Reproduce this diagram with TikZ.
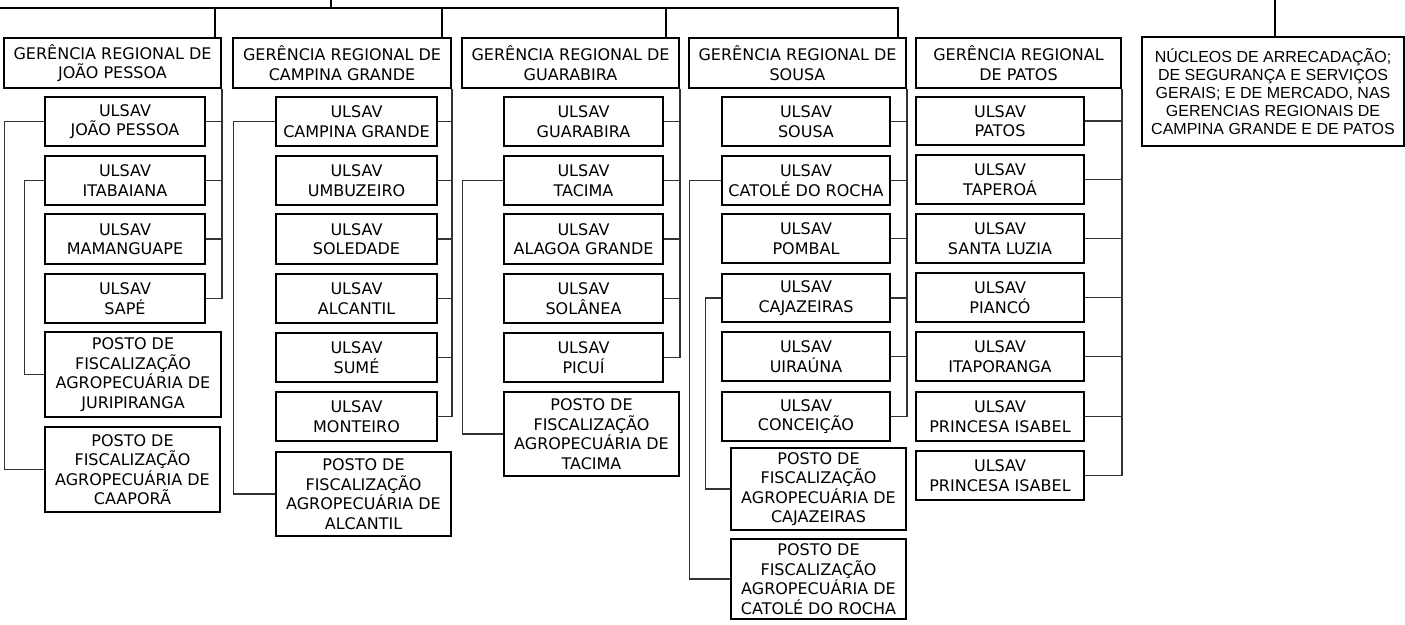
\documentclass[tikz,border=0pt]{standalone}
\usepackage{fontspec}
\setmainfont{DejaVu Sans}
\newfontfamily\arialf{Liberation Sans}
\tikzset{
  box/.style={draw, line width=1.8pt, align=center, inner sep=0pt, font=\fontsize{16}{19.5}\selectfont},
  nbox/.style={box, font=\arialf\fontsize{16}{18}\selectfont},
  conn/.style={draw=black!80, line width=1.2pt},
  mainline/.style={draw=black, line width=2.2pt},
}
\newcommand{\mkbox}[7][box]{\node[#1, minimum width={(#5-#3)*1pt}, minimum height={(#6-#4)*1pt}] (#2) at ({(#3+#5)/2},{(#4+#6)/2}) {#7};}
\begin{document}
\begin{tikzpicture}[x=1pt,y=-1pt]
\useasboundingbox (0,0) rectangle (1405,624);
% regional managements
\mkbox{grjp}{4}{38}{221}{88}{GERÊNCIA REGIONAL DE\\JOÃO PESSOA}
\mkbox{grcg}{233}{38}{451}{88}{GERÊNCIA REGIONAL DE\\CAMPINA GRANDE}
\mkbox{grgu}{462}{38}{679}{88}{GERÊNCIA REGIONAL DE\\GUARABIRA}
\mkbox{grso}{689}{38}{906}{88}{GERÊNCIA REGIONAL DE\\SOUSA}
\mkbox{grpa}{916}{38}{1121}{88}{GERÊNCIA REGIONAL\\DE PATOS}
\mkbox[nbox]{nuc}{1142}{37}{1404}{146}{NÚCLEOS DE ARRECADAÇÃO;\\DE SEGURANÇA E SERVIÇOS\\GERAIS; E DE MERCADO, NAS\\GERENCIAS REGIONAIS DE\\CAMPINA GRANDE E DE PATOS}
% Joao Pessoa
\mkbox{ujp1}{45}{97}{205}{146}{ULSAV\\JOÃO PESSOA}
\mkbox{ujp2}{45}{156}{205}{205}{ULSAV\\ITABAIANA}
\mkbox{ujp3}{45}{214}{205}{264}{ULSAV\\MAMANGUAPE}
\mkbox{ujp4}{45}{274}{205}{323}{ULSAV\\SAPÉ}
\mkbox{pjur}{45}{332}{221}{417}{POSTO DE\\FISCALIZAÇÃO\\AGROPECUÁRIA DE\\JURIPIRANGA}
\mkbox{pcaa}{45}{427}{220}{512}{POSTO DE\\FISCALIZAÇÃO\\AGROPECUÁRIA DE\\CAAPORÃ}
% Campina Grande
\mkbox{ucg1}{276}{97}{437}{146}{ULSAV\\CAMPINA GRANDE}
\mkbox{ucg2}{276}{156}{437}{205}{ULSAV\\UMBUZEIRO}
\mkbox{ucg3}{276}{214}{437}{264}{ULSAV\\SOLEDADE}
\mkbox{ucg4}{276}{274}{437}{323}{ULSAV\\ALCANTIL}
\mkbox{ucg5}{276}{333}{437}{382}{ULSAV\\SUMÉ}
\mkbox{ucg6}{276}{392}{437}{441}{ULSAV\\MONTEIRO}
\mkbox{palc}{276}{452}{451}{536}{POSTO DE\\FISCALIZAÇÃO\\AGROPECUÁRIA DE\\ALCANTIL}
% Guarabira
\mkbox{ugu1}{504}{97}{663}{146}{ULSAV\\GUARABIRA}
\mkbox{ugu2}{504}{156}{663}{205}{ULSAV\\TACIMA}
\mkbox{ugu3}{504}{214}{663}{264}{ULSAV\\ALAGOA GRANDE}
\mkbox{ugu4}{504}{274}{663}{323}{ULSAV\\SOLÂNEA}
\mkbox{ugu5}{504}{333}{663}{382}{ULSAV\\PICUÍ}
\mkbox{ptac}{504}{392}{679}{476}{POSTO DE\\FISCALIZAÇÃO\\AGROPECUÁRIA DE\\TACIMA}
% Sousa
\mkbox{uso1}{722}{97}{890}{146}{ULSAV\\SOUSA}
\mkbox{uso2}{722}{156}{890}{205}{ULSAV\\CATOLÉ DO ROCHA}
\mkbox{uso3}{722}{214}{890}{263}{ULSAV\\POMBAL}
\mkbox{uso4}{722}{274}{890}{322}{ULSAV\\CAJAZEIRAS}
\mkbox{uso5}{722}{332}{890}{381}{ULSAV\\UIRAÚNA}
\mkbox{uso6}{722}{392}{890}{441}{ULSAV\\CONCEIÇÃO}
\mkbox{pcaj}{731}{448}{906}{530}{POSTO DE\\FISCALIZAÇÃO\\AGROPECUÁRIA DE\\CAJAZEIRAS}
\mkbox{pcat}{731}{539}{906}{619}{POSTO DE\\FISCALIZAÇÃO\\AGROPECUÁRIA DE\\CATOLÉ DO ROCHA}
% Patos
\mkbox{upa1}{916}{97}{1084}{145}{ULSAV\\PATOS}
\mkbox{upa2}{916}{155}{1084}{204}{ULSAV\\TAPEROÁ}
\mkbox{upa3}{916}{214}{1084}{263}{ULSAV\\SANTA LUZIA}
\mkbox{upa4}{916}{273}{1084}{322}{ULSAV\\PIANCÓ}
\mkbox{upa5}{916}{332}{1084}{381}{ULSAV\\ITAPORANGA}
\mkbox{upa6}{916}{392}{1084}{441}{ULSAV\\PRINCESA ISABEL}
\mkbox{upa7}{916}{451}{1084}{500}{ULSAV\\PRINCESA ISABEL}
% top connectors
\coordinate (tl) at (0,8);
\coordinate (cso) at (898,8);
\coordinate (tt) at (331,0);
\coordinate (tr) at (1275,0);
\coordinate (cjp) at (215,8);
\coordinate (ccg) at (442,8);
\coordinate (cgu) at (666,8);
\draw[mainline] (tl) -- (cso) -- (cso |- grso.north);
\draw[mainline] (tt) -- (tt |- tl);
\draw[mainline] (cjp) -- (cjp |- grjp.north);
\draw[mainline] (ccg) -- (ccg |- grcg.north);
\draw[mainline] (cgu) -- (cgu |- grgu.north);
\draw[mainline] (tr) -- (tr |- nuc.north);
% right buses
\draw[conn] (grjp.south east) -- (grjp.south east |- ujp4.east);
\foreach \u in {ujp1,ujp2,ujp3,ujp4} \draw[conn] (\u.east) -- (\u.east -| grjp.east);
\draw[conn] (grcg.south east) -- (grcg.south east |- ucg6.east);
\foreach \u in {ucg1,ucg2,ucg3,ucg4,ucg5,ucg6} \draw[conn] (\u.east) -- (\u.east -| grcg.east);
\draw[conn] (grgu.south east) -- (grgu.south east |- ugu5.east);
\foreach \u in {ugu1,ugu2,ugu3,ugu4,ugu5} \draw[conn] (\u.east) -- (\u.east -| grgu.east);
\draw[conn] (grso.south east) -- (grso.south east |- uso6.east);
\foreach \u in {uso1,uso2,uso3,uso4,uso5,uso6} \draw[conn] (\u.east) -- (\u.east -| grso.east);
\draw[conn] (grpa.south east) -- (grpa.south east |- upa7.east);
\foreach \u in {upa1,upa2,upa3,upa4,upa5,upa6,upa7} \draw[conn] (\u.east) -- (\u.east -| grpa.east);
% left buses
\draw[conn] (ujp1.west) -- ++(-40,0) |- (pcaa.west);
\draw[conn] (ujp2.west) -- ++(-20,0) |- (pjur.west);
\draw[conn] (ucg1.west) -- ++(-42,0) |- (palc.west);
\draw[conn] (ugu2.west) -- ++(-41,0) |- (ptac.west);
\draw[conn] (uso2.west) -- ++(-32,0) |- (pcat.west);
\draw[conn] (uso4.west) -- ++(-16,0) |- (pcaj.west);
\end{tikzpicture}
\end{document}
